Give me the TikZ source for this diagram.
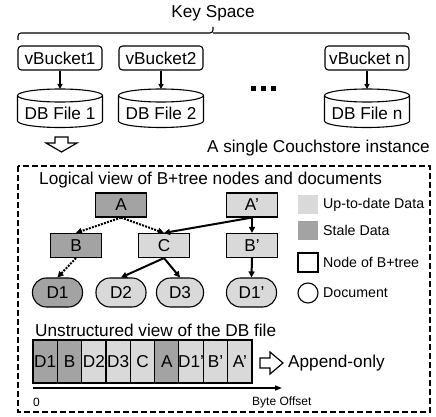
\documentclass[tikz,border=0pt]{standalone}
\usepackage{fontspec}
\setmainfont{Liberation Sans}
\usetikzlibrary{arrows.meta}
\definecolor{stale}{RGB}{163,163,163}
\definecolor{fresh}{RGB}{217,217,217}
\newcommand{\bigf}{\fontsize{17.2}{19}\selectfont}
\newcommand{\legf}{\fontsize{14.2}{16}\selectfont}
\newcommand{\smallf}{\fontsize{12}{14}\selectfont}
\tikzset{
  bucket/.style={draw, line width=1.1pt, rounded corners=3.5pt, minimum width=84pt, minimum height=24pt, inner sep=0pt, font=\bigf},
  treenode/.style={draw, line width=1.1pt, minimum width=51pt, minimum height=24pt, inner sep=0pt, font=\bigf},
  docnode/.style={draw, line width=1.1pt, rounded corners=14pt, minimum width=50pt, minimum height=29pt, inner sep=0pt, font=\bigf},
  cell/.style={draw, line width=1.1pt, minimum width=24.33pt, minimum height=43pt, inner sep=0pt, font=\bigf},
  live/.style={line width=2pt, -{Triangle[length=6pt,width=6pt]}},
  dead/.style={line width=2pt, dash pattern=on 2pt off 1.2pt, -{Triangle[length=6pt,width=6pt]}},
  hollow/.style={draw, line width=1.2pt, fill=white, line join=miter},
  txt/.style={inner sep=0pt, font=\bigf},
}
\begin{document}
\begin{tikzpicture}[x=1pt,y=-1pt]
\useasboundingbox (0,0) rectangle (436,417);
% key space
\node[txt] (key) at (213,13) {Key Space};
\draw[line width=1.1pt, rounded corners=3pt] (18,40) -- (18,33) -- (213,33) -- (213,27);
\draw[line width=1.1pt, rounded corners=3pt] (409,40) -- (409,33) -- (213,33);
% buckets and db files
\foreach \n/\cx/\lb/\db in {1/60/vBucket1/DB File 1, 2/161/vBucket2/DB File 2, 3/367/vBucket n/DB File n}{
  \node[bucket] (vb\n) at (\cx,58) {\lb};
  \coordinate (cyl\n) at (\cx,89);
  \draw[line width=1.1pt] (\cx-42.5,95.5) -- (\cx-42.5,121) arc[start angle=180,end angle=360,x radius=42.5pt,y radius=6.5pt] -- (\cx+42.5,95.5) arc[start angle=0,end angle=360,x radius=42.5pt,y radius=6.5pt];
  \node[txt] (db\n) at (\cx,113) {\db};
  \draw[line width=1.6pt, -{Triangle[length=5pt,width=5pt]}] (vb\n.south) -- (cyl\n);
}
% dots
\foreach \x in {253,263,273}{\fill (\x-2.5,86.5) rectangle (\x+2.5,91.5);}
% hollow down arrow
\draw[hollow] (55,137) -- (68,137) -- (68,143) -- (77,143) -- (61.5,152) -- (46,143) -- (55,143) -- cycle;
\node[txt, anchor=east] (inst) at (430,148) {A single Couchstore instance};
% dashed frame
\draw[line width=2pt, dash pattern=on 6pt off 3pt] (18,166) rectangle (430,412);
\node[txt, anchor=west] (logical) at (39,180) {Logical view of B+tree nodes and documents};
% tree
\node[treenode, fill=stale] (nA) at (121,205) {A};
\node[treenode, fill=fresh] (nAp) at (252,205) {A'};
\node[treenode, fill=stale] (nB) at (76,245.5) {B};
\node[treenode, fill=fresh] (nC) at (164,245.5) {C};
\node[treenode, fill=fresh] (nBp) at (252,245.5) {B'};
\node[docnode, fill=stale] (dD1) at (57.5,292.5) {D1};
\node[docnode, fill=fresh] (dD2) at (121,292.5) {D2};
\node[docnode, fill=fresh, minimum width=47pt] (dD3) at (180,292.5) {D3};
\node[docnode, fill=fresh] (dD1p) at (251.5,292.5) {D1'};
\draw[dead] (nA.south) -- (nB.north);
\draw[dead] (nA.south) -- (nC.north);
\draw[dead] (nB.south) -- (dD1.north);
\draw[live] (nAp.south) -- (nC.north);
\draw[live] (nAp.south) -- (nBp.north);
\draw[live] (nC.south) -- (dD2.north);
\draw[live] (nC.south) -- (dD3.north);
\draw[live] (nBp.south) -- (dD1p.north);
% legend
\fill[fresh] (298,195) rectangle (318,214);
\node[inner sep=0pt, font=\legf, anchor=west] (lg1) at (323,204.5) {Up-to-date Data};
\fill[stale] (298,221) rectangle (318,240);
\node[inner sep=0pt, font=\legf, anchor=west] (lg2) at (323,230.5) {Stale Data};
\draw[line width=1.1pt] (298,253) rectangle (318,272);
\node[inner sep=0pt, font=\legf, anchor=west] (lg3) at (323,262.5) {Node of B+tree};
\draw[line width=1.1pt] (308,293) circle[radius=10pt];
\node[inner sep=0pt, font=\legf, anchor=west] (lg4) at (323,293) {Document};
% unstructured view
\node[txt, anchor=west] (unst) at (35,330) {Unstructured view of the DB file};
\foreach \i/\lb/\c in {0/D1/stale, 1/B/stale, 2/D2/fresh, 3/D3/fresh, 4/C/fresh, 5/A/stale, 6/D1'/fresh, 7/B'/fresh, 8/A'/fresh}{
  \node[cell, fill=\c] (cell\i) at (33+12.17+\i*24.33,361.5) {\lb};
}
\draw[hollow] (260,358) -- (270,358) -- (270,352) -- (283,363) -- (270,374) -- (270,368) -- (260,368) -- cycle;
\node[txt, anchor=west] (app) at (288,363) {Append-only};
% axis
\coordinate (ax0) at (33,388);
\coordinate (ax1) at (282,388);
\draw[line width=1.5pt, -{Triangle[length=7pt,width=5pt]}] (ax0) -- (ax1);
\node[inner sep=0pt, font=\smallf, anchor=west] (zero) at (33,402) {0};
\node[inner sep=0pt, font=\smallf, anchor=west] (byte) at (252,402) {Byte Offset};
\end{tikzpicture}
\end{document}
